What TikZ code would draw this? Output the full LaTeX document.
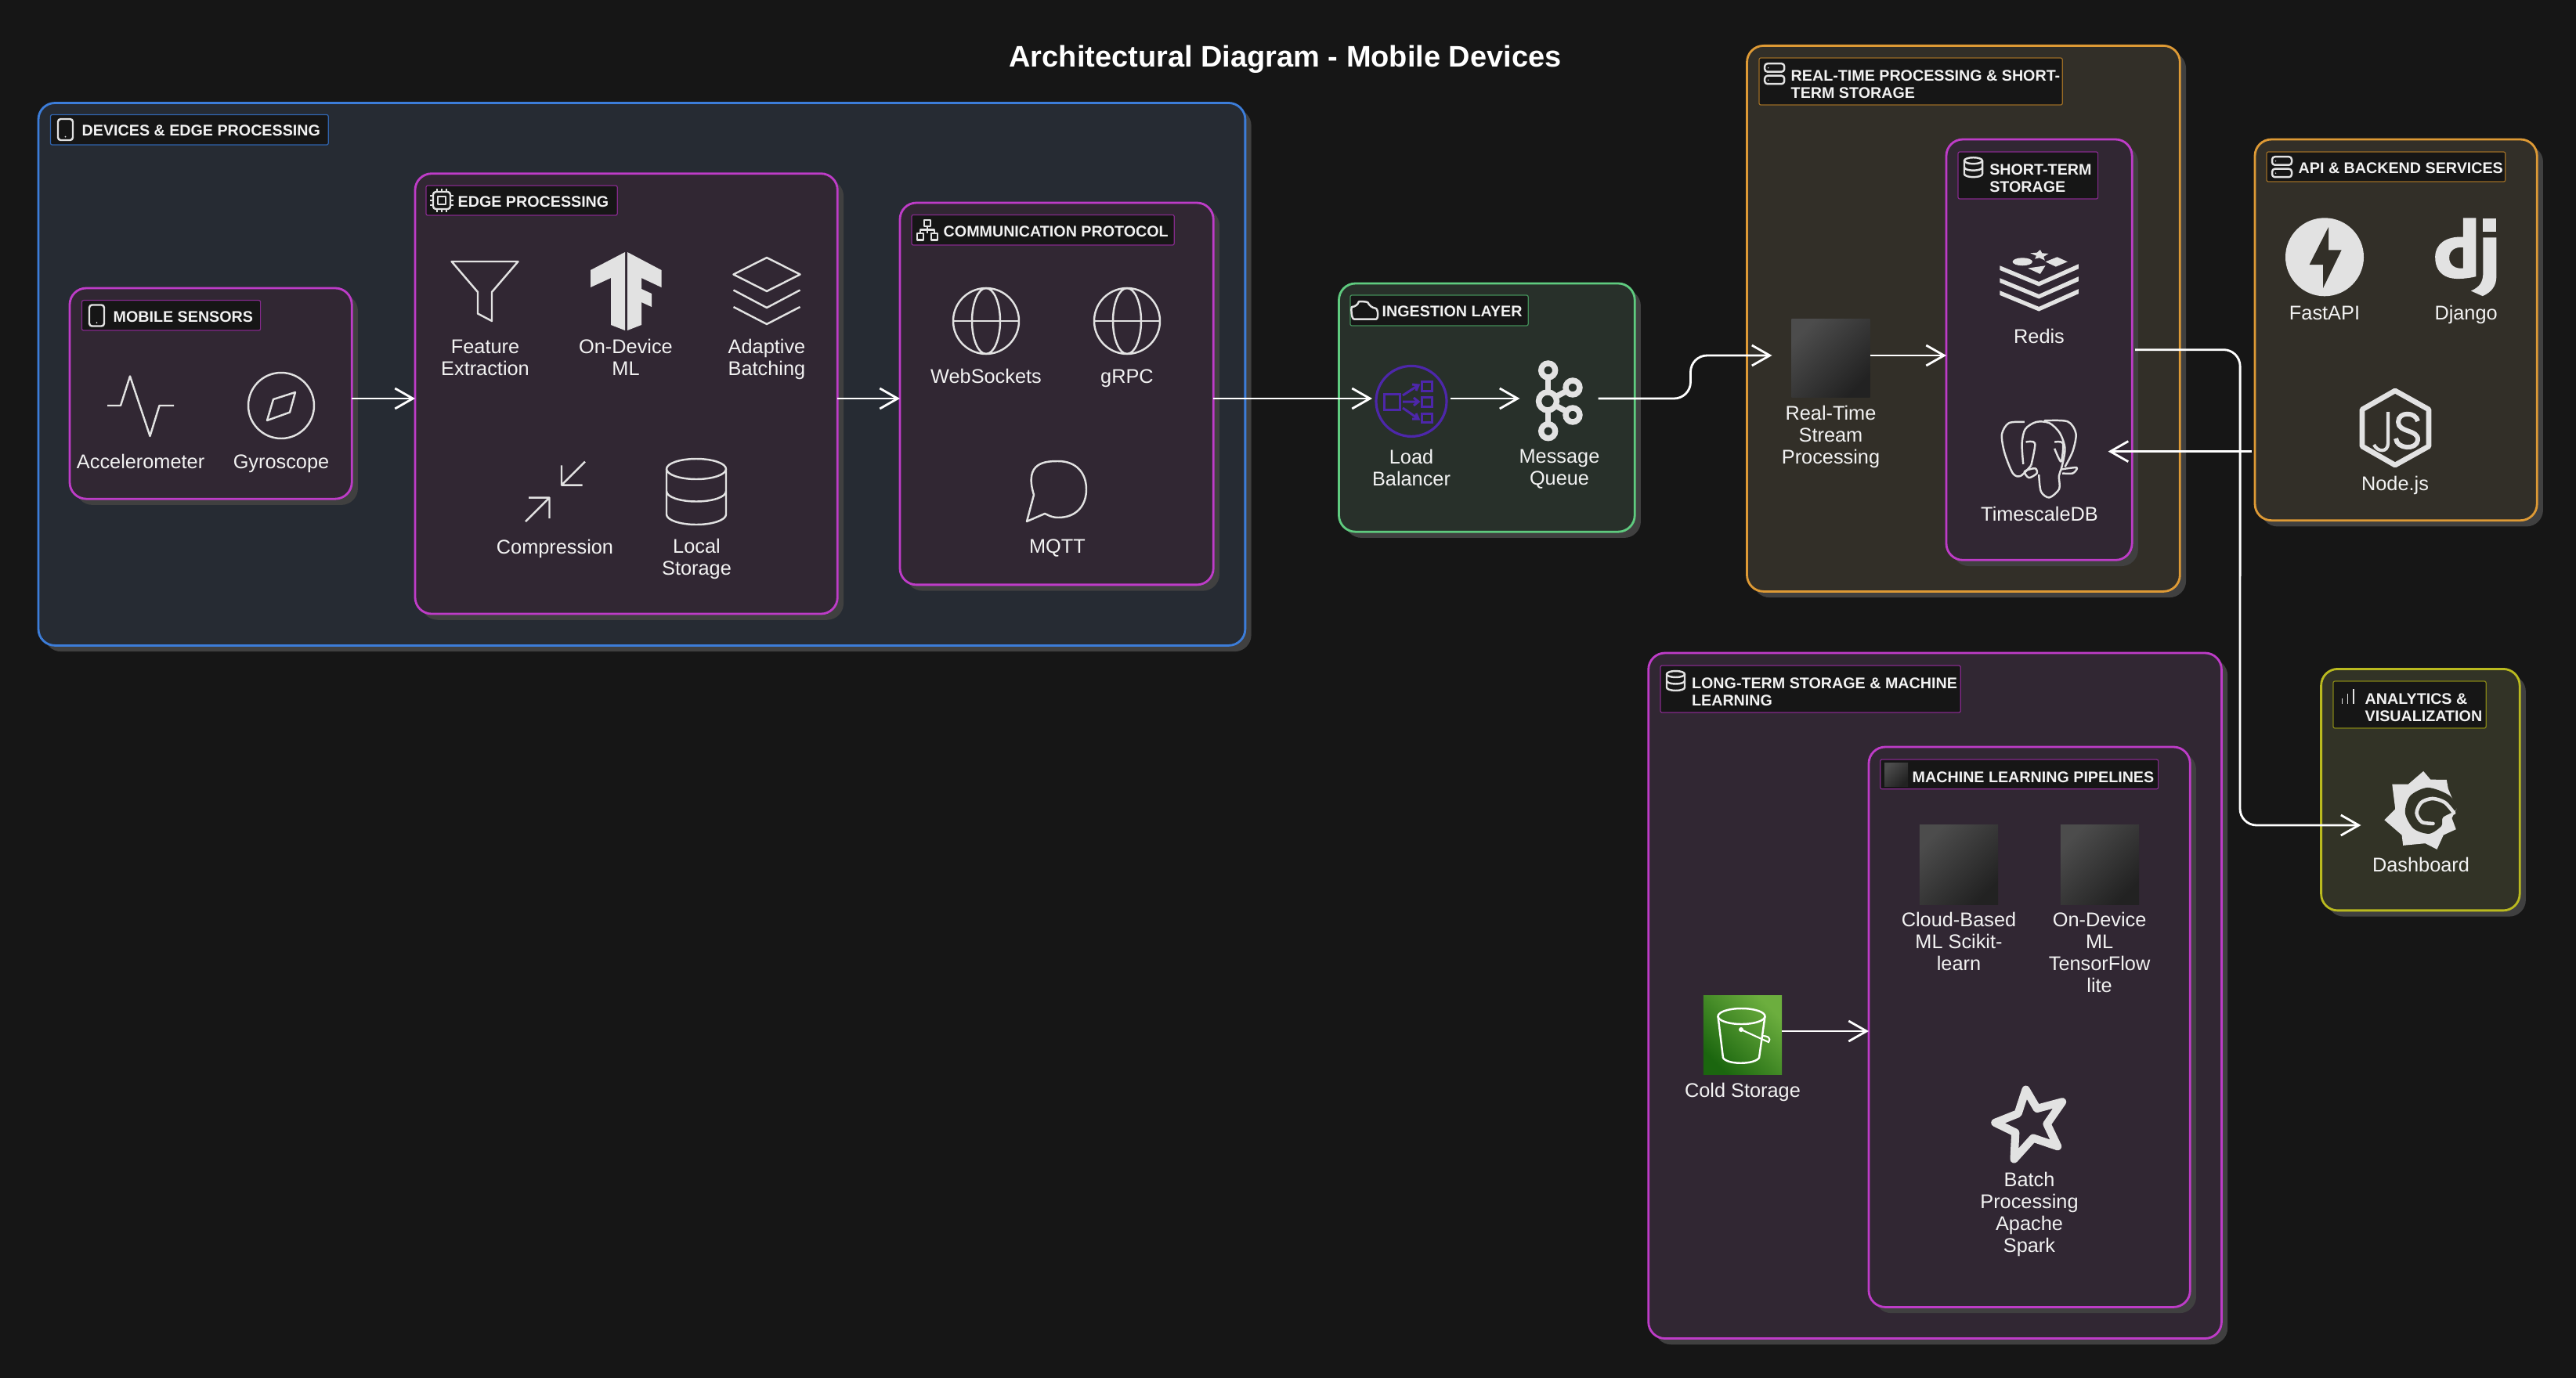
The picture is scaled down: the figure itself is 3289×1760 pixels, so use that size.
\documentclass[tikz,border=0pt]{standalone}
\usepackage{fontspec}
\setmainfont{Liberation Sans}
\usetikzlibrary{arrows.meta,shadows,calc}

\definecolor{bgdark}{HTML}{161616}
\definecolor{shadowgray}{HTML}{404040}
\definecolor{iconlight}{HTML}{E2E2E2}
\definecolor{textlight}{HTML}{F2F2F2}
\definecolor{blueline}{HTML}{3C7DD9}
\definecolor{bluefill}{HTML}{262B33}
\definecolor{purpleline}{HTML}{BE3CC8}
\definecolor{purplefill}{HTML}{312733}
\definecolor{greenline}{HTML}{5FCB7F}
\definecolor{greenfill}{HTML}{28302A}
\definecolor{orangeline}{HTML}{DE9A35}
\definecolor{orangefill}{HTML}{322F28}
\definecolor{yellowline}{HTML}{BABA1F}
\definecolor{yellowfill}{HTML}{323326}
\definecolor{lbpurple}{HTML}{4D27AA}
\definecolor{tiletop}{HTML}{4C4C4C}
\definecolor{tilemid}{HTML}{272727}
\definecolor{tilelow}{HTML}{222222}
\definecolor{s3top}{HTML}{6CAE3E}
\definecolor{s3low}{HTML}{1B660F}

\tikzset{
    panel/.style={draw, rounded corners=6pt, line width=0.8pt, anchor=north west, inner sep=0pt, outer sep=0pt,
        drop shadow={shadow xshift=2.2pt, shadow yshift=-2.2pt, fill=shadowgray, opacity=1}},
    tag/.style={draw, rounded corners=0.6pt, line width=0.35pt, fill=bgdark, anchor=north west, inner sep=0pt, outer sep=0pt},
    tagtext/.style={anchor=west, align=left, inner sep=0pt, text=textlight, yshift=-0.4pt,
        font=\bfseries\fontsize{5.6}{6.2}\selectfont},
    lbl/.style={align=center, inner sep=0pt, text=textlight, yshift=-0.8pt,
        font=\fontsize{7.2}{8}\selectfont, execute at begin node=\strut, execute at end node=\strut},
    iconline/.style={draw=iconlight, line width=0.7pt, line join=round},
    iconfill/.style={fill=iconlight},
    slot/.style={minimum size=1cm, inner sep=0pt, outer sep=0pt},
    flow/.style={draw=white, line width=0.8pt, line join=round, -{Straight Barb[length=6.5pt,width=7.4pt]}},
    darktile/.style={inner sep=0pt, outer sep=0pt, top color=tiletop, middle color=tilemid, bottom color=tilelow, shading angle=45},
    phoneicon/.pic={
        \draw[iconline, rounded corners=1pt] (-9.5,-13.5) rectangle (9.5,13.5);
        \fill[iconlight] (0,9) circle[radius=1];
    },
    servericon/.pic={
        \draw[iconline, rounded corners=1pt] (-12.5,-13) rectangle (12.5,-2.5);
        \draw[iconline, rounded corners=1pt] (-12.5,2.5) rectangle (12.5,13);
        \fill[iconlight] (-8,-7.5) circle[radius=0.8] (-8,8) circle[radius=0.8];
    },
    dbicon/.pic={
        \draw[iconline] (0,-8.5) ellipse[x radius=11.5, y radius=4];
        \draw[iconline] (-11.5,-8.5) -- (-11.5,8.5) arc[start angle=180, end angle=0, x radius=11.5, y radius=4] -- (11.5,-8.5);
        \draw[iconline] (-11.5,0) arc[start angle=180, end angle=0, x radius=11.5, y radius=4];
    },
    globeicon/.pic={
        \draw[iconline] (0,0) circle[radius=42];
        \draw[iconline] (0,0) ellipse[x radius=18, y radius=42];
        \draw[iconline] (-42,0) -- (42,0);
    }
}

\begin{document}
\begin{tikzpicture}[x=0.01cm, y=-0.01cm]
    \fill[bgdark] (0,0) rectangle (3289,1760);
    \useasboundingbox (0,0) rectangle (3289,1760);

    \node[inner sep=0pt, text=white, font=\bfseries\fontsize{10.8}{12}\selectfont] (maintitle) at (1641,76) {Architectural Diagram - Mobile Devices};

    % Rows the straight connectors run on
    \coordinate (rowa) at (0,509);
    \coordinate (rowb) at (0,454);
    \coordinate (rowc) at (0,1317);
    \coordinate (rowe) at (0,1054);

    % Outer panels
    \node[panel, draw=blueline, fill=bluefill, minimum width=15.4cm, minimum height=6.925cm] (devices) at (49,131.5) {};
    \node[panel, draw=purpleline, fill=purplefill, minimum width=3.6cm, minimum height=2.69cm] (sensors) at (89,368) {};
    \node[panel, draw=purpleline, fill=purplefill, minimum width=5.39cm, minimum height=5.62cm] (edge) at (530,221.7) {};
    \node[panel, draw=purpleline, fill=purplefill, minimum width=4.0cm, minimum height=4.876cm] (comm) at (1149,259) {};
    \node[panel, draw=greenline, fill=greenfill, minimum width=3.775cm, minimum height=3.17cm] (ingest) at (1709.5,362) {};
    \node[panel, draw=orangeline, fill=orangefill, minimum width=5.525cm, minimum height=6.966cm] (realtime) at (2230.5,58.4) {};
    \node[panel, draw=purpleline, fill=purplefill, minimum width=2.37cm, minimum height=5.37cm] (shortterm) at (2485,178) {};
    \node[panel, draw=orangeline, fill=orangefill, minimum width=3.6cm, minimum height=4.864cm] (backend) at (2879,178) {};
    \node[panel, draw=purpleline, fill=purplefill, minimum width=7.313cm, minimum height=8.75cm] (longterm) at (2104.7,834) {};
    \node[panel, draw=purpleline, fill=purplefill, minimum width=4.1cm, minimum height=7.15cm] (mlpipe) at (2386,954) {};
    \node[panel, draw=yellowline, fill=yellowfill, minimum width=2.534cm, minimum height=3.083cm] (analytics) at (2963.6,854.4) {};

    % Panel tags
    \node[tag, draw=blueline!80!black, minimum width=3.545cm, minimum height=0.385cm] (tagdevices) at (64.5,146.5) {};
    \node[tagtext] (tagdevicestxt) at (104,165.7) {DEVICES \& EDGE PROCESSING};
    \pic at (83.5,165.5) {phoneicon};

    \node[tag, draw=purpleline!70!black, minimum width=2.28cm, minimum height=0.384cm] (tagsensors) at (104.5,383.6) {};
    \node[tagtext] (tagsensorstxt) at (144,403) {MOBILE SENSORS};
    \pic at (123.5,403) {phoneicon};

    \node[tag, draw=purpleline!70!black, minimum width=2.44cm, minimum height=0.38cm] (tagedge) at (544,237) {};
    \node[tagtext] (tagedgetxt) at (584,256) {EDGE PROCESSING};
    \draw[iconline, rounded corners=1pt] (553,245) rectangle (575,267);
    \draw[iconline] (559,251) rectangle (569,261);
    \foreach \p in {558,564,570} {
        \draw[iconline, line width=0.45pt] (\p,241) -- (\p,245) (\p,267) -- (\p,271);
        \draw[iconline, line width=0.45pt] (549,\p-308) -- (553,\p-308) (575,\p-308) -- (579,\p-308);
    }

    \node[tag, draw=purpleline!70!black, minimum width=3.35cm, minimum height=0.386cm] (tagcomm) at (1164,274.4) {};
    \node[tagtext] (tagcommtxt) at (1204,294) {COMMUNICATION PROTOCOL};
    \draw[iconline] (1180,281) rectangle (1188,289) (1171,298) rectangle (1179,306.5) (1189,298) rectangle (1197,306.5);
    \draw[iconline] (1184,289) -- (1184,298) (1175,298) -- (1175,293.5) -- (1193,293.5) -- (1193,298);

    \node[tag, draw=greenline!70!black, minimum width=2.27cm, minimum height=0.39cm] (tagingest) at (1724,377) {};
    \node[tagtext] (tagingesttxt) at (1764,396.5) {INGESTION LAYER};
    \draw[iconline, rounded corners=2pt] (1736,407.6) .. controls (1725,407.6) and (1725,392) .. (1733,392) .. controls (1735,385) and (1746,385) .. (1749,393) .. controls (1760,394) and (1760,407.6) .. (1750,407.6) -- cycle;

    \node[tag, draw=orangeline!70!black, minimum width=3.87cm, minimum height=0.6cm] (tagrealtime) at (2246,74) {};
    \node[tagtext] (tagrealtimetxt) at (2286,106) {REAL-TIME PROCESSING \& SHORT-\\TERM STORAGE};
    \pic at (2265.7,94.2) {servericon};

    \node[tag, draw=purpleline!70!black, minimum width=1.785cm, minimum height=0.6cm] (tagshort) at (2500,194) {};
    \node[tagtext] (tagshorttxt) at (2539.6,226) {SHORT-TERM\\STORAGE};
    \pic at (2519.5,213.7) {dbicon};

    \node[tag, draw=orangeline!70!black, minimum width=3.046cm, minimum height=0.38cm] (tagbackend) at (2894,194) {};
    \node[tagtext] (tagbackendtxt) at (2934,213.5) {API \& BACKEND SERVICES};
    \pic at (2913.5,213.2) {servericon};

    \node[tag, draw=purpleline!70!black, minimum width=3.83cm, minimum height=0.6cm] (taglong) at (2120,850) {};
    \node[tagtext] (taglongtxt) at (2159.4,882) {LONG-TERM STORAGE \& MACHINE\\LEARNING};
    \pic at (2139.5,869.5) {dbicon};

    \node[tag, draw=purpleline!70!black, minimum width=3.547cm, minimum height=0.377cm] (tagml) at (2400.7,970) {};
    \node[tagtext] (tagmltxt) at (2441,991) {MACHINE LEARNING PIPELINES};
    \node[darktile, minimum width=0.3cm, minimum height=0.3cm] (tagmlicon) at (2421,989) {};

    \node[tag, draw=yellowline!70!black, minimum width=1.95cm, minimum height=0.6cm] (taganalytics) at (2979,870) {};
    \node[tagtext] (taganalyticstxt) at (3019,902) {ANALYTICS \&\\VISUALIZATION};
    \draw[iconline, line width=0.45pt] (2990.6,892) -- (2990.6,899) (2997.6,886) -- (2997.6,899) (3005,880) -- (3005,899);

    % Mobile sensors
    \draw[iconline] (137,518) -- (154,518) -- (166,480.5) -- (191.5,557) -- (203.5,518) -- (222,518);
    \node[lbl] (lblaccel) at (179.6,590) {Accelerometer};
    \draw[iconline] (359,518) circle[radius=42];
    \draw[iconline] (377,501) -- (349,510) -- (341,537) -- (370,526.6) -- cycle;
    \node[lbl] (lblgyro) at (359,590) {Gyroscope};

    % Edge processing
    \draw[iconline] (576.6,334) -- (661.5,334) -- (628,373) -- (628,410) -- (610,400.5) -- (610,373) -- cycle;
    \node[lbl] (lblfeature) at (619.5,458) {Feature\\Extraction};
    \fill[iconfill] (798,322) -- (754,345) -- (754,367) -- (780,355) -- (780,415) -- (798,422) -- cycle;
    \fill[iconfill] (801,322) -- (844.5,345) -- (844.5,367) -- (819,355) -- (819,369) -- (832,375) -- (832,392) -- (819,386) -- (819,415) -- (801,422) -- cycle;
    \node[lbl] (lblondevice) at (799,458) {On-Device\\ML};
    \draw[iconline] (936.5,350.5) -- (979,329) -- (1021.5,350.5) -- (979,372) -- cycle;
    \draw[iconline] (936.5,370.5) -- (979,393) -- (1021.5,370.5);
    \draw[iconline] (936.5,392) -- (979,414) -- (1021.5,392);
    \node[lbl] (lblbatch) at (979,458) {Adaptive\\Batching};
    \draw[iconline] (747,589.6) -- (717,619.6) (717,594.4) -- (717,619.6) -- (743.6,619.6);
    \draw[iconline] (671,666) -- (701.5,635.6) (675,635.6) -- (701.5,635.6) -- (701.5,662);
    \node[lbl] (lblcompress) at (708.5,698.6) {Compression};
    \draw[iconline] (889,599) ellipse[x radius=38, y radius=13];
    \draw[iconline] (851,599) -- (851,657) arc[start angle=180, end angle=0, x radius=38, y radius=13] -- (927,599);
    \draw[iconline] (851,627.5) arc[start angle=180, end angle=0, x radius=38, y radius=13];
    \node[lbl] (lbllocal) at (889.5,712.7) {Local\\Storage};

    % Communication protocol
    \pic at (1259,410) {globeicon};
    \node[lbl] (lblws) at (1259,480.7) {WebSockets};
    \pic at (1439,410) {globeicon};
    \node[lbl] (lblgrpc) at (1439,480.7) {gRPC};
    \draw[iconline] (1311,666) -- (1320,632) .. controls (1307,590) and (1335,589) .. (1351,589) .. controls (1375,589) and (1387,605) .. (1387,625) .. controls (1387,645) and (1375,661) .. (1351,661) .. controls (1342,661) and (1337,657) .. (1334,656) -- cycle;
    \node[lbl] (lblmqtt) at (1350,698.5) {MQTT};

    % Ingestion layer
    \node[slot] (balancer) at (1802,512.4) {};
    \draw[draw=lbpurple, line width=0.9pt] (balancer.center) circle[radius=45];
    \begin{scope}[draw=lbpurple, line width=0.85pt]
        \draw (1767,503) rectangle (1787,523);
        \draw (1815,487) rectangle (1828,499) (1815,507.5) rectangle (1828,519) (1815,528) rectangle (1828,539);
        \draw (1791,505) -- (1811,492) (1803,491) -- (1811,492) -- (1808,499);
        \draw (1791,513) -- (1811,513) (1805,508) -- (1811,513) -- (1805,518);
        \draw (1791,521) -- (1811,535) (1803,535) -- (1811,535) -- (1808,528);
    \end{scope}
    \node[lbl] (lblbalancer) at (1802,598.5) {Load\\Balancer};
    \node[slot] (queue) at (1990.5,512.4) {};
    \begin{scope}[draw=iconlight, line width=2.1pt]
        \draw (1976,512.4) circle[radius=11.5];
        \draw (1976.7,473) circle[radius=9] (1976.7,550.7) circle[radius=9];
        \draw (2008,495) circle[radius=9] (2008,530) circle[radius=9];
        \draw (1976.5,482) -- (1976.5,501) (1976.5,524) -- (1976.5,541.7);
        \draw (1986,507) -- (2000,499.5) (1986,518) -- (2000,525.5);
    \end{scope}
    \node[lbl] (lblqueue) at (1991,598.5) {Message\\Queue};

    % Real-time processing
    \node[darktile, minimum width=1cm, minimum height=0.997cm] (rtproc) at (2337.5,457.8) {};
    \node[lbl] (lblrtproc) at (2337.5,556.7) {Real-Time\\Stream\\Processing};
    \coordinate (rtin) at (2262.5,454);

    % Redis, drawn in the units of a 3x crop
    \begin{scope}[shift={(2530,300)}, x=0.00333cm, y=-0.00333cm]
        \foreach \d in {0,48,96} {
            \fill[iconfill] (70,118+\d) -- (220,180+\d) -- (372,112+\d) -- (372,130+\d) -- (220,197+\d) -- (70,135+\d) -- cycle;
        }
        \fill[iconfill] (157,103) ellipse[x radius=38, y radius=15];
        \fill[iconfill] (245,103) -- (290,85) -- (330,103) -- (285,122) -- cycle;
        \fill[iconfill] (178,128) -- (245,118) -- (225,150) -- cycle;
        \fill[iconfill] (225,57) -- (232,70) -- (257,72) -- (238,84) -- (243,98) -- (222,88) -- (205,92) -- (210,80) -- (187,70) -- (213,68) -- cycle;
        % Elephant
        \draw[iconline] plot[smooth] coordinates {(165,718) (105,722) (78,765) (88,835) (120,915) (150,925) (190,885)};
        \draw[iconline] plot[smooth] coordinates {(160,880) (155,800) (168,745) (210,718) (260,722) (300,760) (320,820) (308,890) (297,925) (298,975) (260,1008) (228,985) (220,920)};
        \draw[iconline] plot[smooth] coordinates {(240,713) (330,716) (362,762) (350,830) (320,890)};
        \draw[iconline] plot[smooth cycle] coordinates {(165,908) (205,896) (212,915) (182,932)};
        \draw[iconline] plot[smooth] coordinates {(305,900) (365,893) (350,915) (310,915)};
        \draw[iconline] plot[smooth] coordinates {(170,795) (205,800) (190,885)};
        \draw[iconline] plot[smooth] coordinates {(280,795) (312,800) (305,870) (280,820)};
    \end{scope}
    \node[lbl] (lblredis) at (2603.5,430) {Redis};
    \node[lbl] (lbltsdb) at (2604,657) {TimescaleDB};
    \coordinate (tsin) at (2691.6,576.6);

    % API and backend services
    \fill[iconfill] (2968,328.3) circle[radius=50];
    \fill[orangefill] (2973,290) -- (2948.6,338) -- (2966,338) -- (2966,368) -- (2989.6,319.4) -- (2973,319.4) -- cycle;
    \node[lbl] (lblfastapi) at (2968,400) {FastAPI};
    \begin{scope}[shift={(3000,270)}, x=0.00333cm, y=-0.00333cm]
        \fill[iconfill, even odd rule] (435,25) -- (485,25) -- (485,250) .. controls (440,260) and (400,262) .. (375,252) .. controls (345,240) and (328,215) .. (328,175) .. controls (328,125) and (370,95) .. (435,98) -- cycle
            (435,138) .. controls (405,135) and (382,150) .. (382,178) .. controls (382,205) and (405,222) .. (435,218) -- cycle;
        \fill[iconfill] (512,27) rectangle (563,78);
        \fill[iconfill] (512,100) -- (563,100) -- (563,250) .. controls (563,285) and (545,310) .. (510,325) -- (465,305) .. controls (500,290) and (512,270) .. (512,235) -- cycle;
    \end{scope}
    \node[lbl] (lbldjango) at (3148.6,400) {Django};
    \draw[iconline, line width=1.9pt] (3058,499) -- (3101,523) -- (3101,570) -- (3058,594) -- (3016,570) -- (3016,523) -- cycle;
    \draw[iconline, line width=1.2pt] (3049,526) -- (3049,566) .. controls (3049,578) and (3036,578) .. (3031,568);
    \draw[iconline, line width=1.7pt] (3087,538) .. controls (3085,526) and (3062,525) .. (3062,539) .. controls (3062,553) and (3088,548) .. (3087,562) .. controls (3086,575) and (3060,574) .. (3059,560);
    \node[lbl] (lblnode) at (3058,618) {Node.js};
    \coordinate (apiout) at (2875,576.6);

    % Long-term storage
    \node[inner sep=0pt, outer sep=0pt, minimum width=1cm, minimum height=1cm, top color=s3top, bottom color=s3low, shading angle=-45] (coldstore) at (2225,1322) {};
    \draw[draw=white, line width=0.7pt] (2223.5,1298) ellipse[x radius=30, y radius=10];
    \draw[draw=white, line width=0.7pt] (2193.5,1298) -- (2200,1351) .. controls (2205,1360) and (2240,1360) .. (2246,1351) -- (2253.5,1298);
    \draw[draw=white, line width=0.6pt] (2223,1315) -- (2258,1331) .. controls (2262,1325) and (2256,1323) .. (2250,1323);
    \fill[white] (2223,1315) circle[radius=3];
    \node[lbl] (lblcold) at (2225,1393) {Cold Storage};

    \node[darktile, minimum width=1cm, minimum height=1.01cm] (cloudml) at (2501,1104.5) {};
    \node[lbl] (lblcloudml) at (2501,1203.5) {Cloud-Based\\ML Scikit-\\learn};
    \node[darktile, minimum width=1cm, minimum height=1.01cm] (devml) at (2681,1104.5) {};
    \node[lbl] (lbldevml) at (2680.6,1217.5) {On-Device\\ML\\TensorFlow\\lite};
    \begin{scope}[shift={(2520,1370)}, x=0.00333cm, y=-0.00333cm]
        \draw[iconline, line width=2.9pt] (200,65) -- (243,138) -- (340,112) -- (281,197) -- (322,283) -- (228,251) -- (155,332) -- (160,230) -- (82,192) -- (170,157) -- cycle;
    \end{scope}
    \node[lbl] (lblspark) at (2591,1550) {Batch\\Processing\\Apache\\Spark};

    % Analytics
    \begin{scope}[shift={(3000,970)}, x=0.00333cm, y=-0.00333cm]
        \fill[iconfill] (283,45) -- (310,77) -- (372,78) -- (378,112) -- (410,190) -- (392,225) -- (408,268) -- (360,290) -- (335,345) -- (290,322) -- (205,330) -- (200,290) -- (133,232) -- (175,190) -- (163,95) -- (225,95) -- cycle;
        \fill[yellowfill] plot[smooth cycle] coordinates {(410,190) (382,138) (300,108) (232,140) (213,205) (245,265) (305,285) (352,255) (358,222)};
        \draw[iconlight, line width=1.3pt, line cap=round] plot[smooth] coordinates {(400,205) (365,165) (318,150) (275,165) (257,205) (277,240) (320,246)};
    \end{scope}
    \node[lbl] (lbldash) at (3091,1105) {Dashboard};
    \coordinate (dashin) at (3014.5,1054);

    % Connectors
    \draw[flow] (sensors.east |- rowa) -- (edge.west |- rowa);
    \draw[flow] (edge.east |- rowa) -- (comm.west |- rowa);
    \draw[flow] (comm.east |- rowa) -- (balancer.west |- rowa);
    \draw[flow] (balancer.east |- rowa) -- (queue.west |- rowa);
    \draw[flow, rounded corners=6pt] (queue.east |- rowa) -- ($(rowa)+(2158.5,0)$) -- ($(rowb)+(2158.5,0)$) -- (rtin);
    \draw[flow] (rtproc.east |- rowb) -- (shortterm.west |- rowb);
    \draw[flow, rounded corners=6pt] ($(shortterm.east)+(4,0)$) -- ($(shortterm.east)+(138,0)$) -- ($(rowe)+(2860,0)$) -- (dashin);
    \draw[flow] (apiout) -- (tsin);
    \draw[flow] (coldstore.east |- rowc) -- (mlpipe.west |- rowc);
\end{tikzpicture}
\end{document}
